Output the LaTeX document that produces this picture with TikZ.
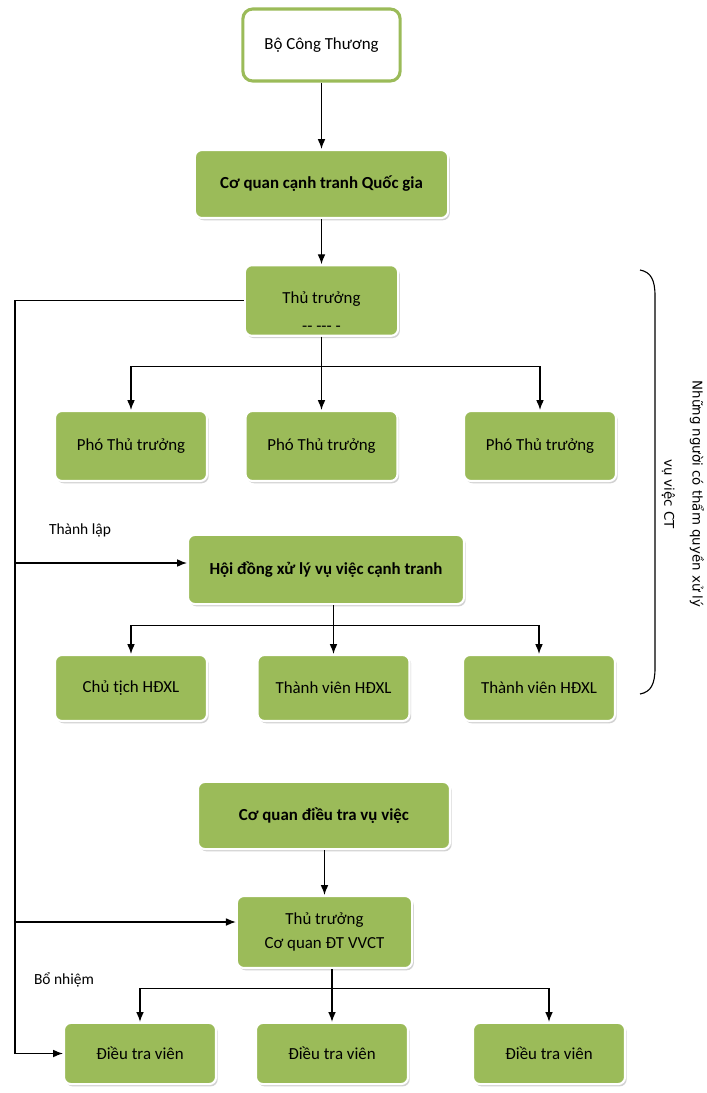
\documentclass[tikz,border=0pt]{standalone}
\usepackage{fontspec}
\setmainfont{Carlito}
\newfontfamily\notefont{DejaVu Sans}
\usetikzlibrary{arrows.meta,shadows}
\definecolor{boxgreen}{HTML}{9BBB59}

\begin{document}
\begin{tikzpicture}[x=0.025cm,y=-0.025cm,
  every node/.style={font=\fontsize{12}{14.5}\selectfont},
  gbox/.style={fill=boxgreen,draw=white,line width=1.5pt,rounded corners=5pt,
    drop shadow={shadow xshift=1.2pt,shadow yshift=-1.6pt,fill=black!35},
    minimum width=3.8cm,align=center},
  bold gbox/.style={gbox,font=\fontsize{12}{14.5}\selectfont\bfseries},
  topbox/.style={fill=white,draw=boxgreen,line width=2.2pt,rounded corners=7pt},
  arr/.style={-{Latex[length=7pt,width=5.5pt]},line width=0.8pt},
  side label/.style={inner sep=0pt,font=\fontsize{11}{13}\selectfont},
  ]
  \useasboundingbox (0,0) rectangle (707,1093);

  \node[topbox,minimum width=3.93cm,minimum height=1.8cm] (bct) at (321.5,45) {Bộ Công Thương};
  \node[bold gbox,minimum width=6.33cm,minimum height=1.7cm] (cqct) at (321.5,184) {Cơ quan cạnh tranh Quốc gia};
  \node[gbox,minimum width=3.83cm,minimum height=1.68cm] (tt) at (321.5,300.5)
    {\rule{0pt}{24pt}Thủ trưởng\\[5pt]{-}{-} {-}{-}{-} {-}};
  \foreach \i/\x in {1/131,2/321.5,3/540}{
    \node[gbox,minimum height=1.75cm] (pho\i) at (\x,446) {Phó Thủ trưởng};
  }

  \node[bold gbox,minimum width=6.9cm,minimum height=1.73cm] (hd) at (326,569.5) {Hội đồng xử lý vụ việc cạnh tranh};
  \foreach \n/\x/\t in {ct/131/Chủ tịch HĐXL,tv1/333.5/Thành viên HĐXL,tv2/539/Thành viên HĐXL}{
    \node[gbox,minimum height=1.65cm] (\n) at (\x,688) {\t};
  }

  \node[bold gbox,minimum width=6.3cm,minimum height=1.68cm] (cqdt) at (324,815.5) {Cơ quan điều tra vụ việc};
  \node[gbox,minimum width=4.38cm,minimum height=1.8cm] (ttdt) at (324.5,932) {Thủ trưởng\\[2pt]Cơ quan ĐT VVCT};
  \foreach \i/\x in {1/140,2/332,3/549}{
    \node[gbox,minimum height=1.53cm] (dtv\i) at (\x,1053.5) {Điều tra viên};
  }

  \node[side label] (thanhlap) at (80,530) {Thành lập};
  \node[side label] (bonhiem) at (64,980) {Bổ nhiệm};

  \draw[arr] (bct) -- (cqct);
  \draw[arr] (cqct) -- (tt);
  \draw[arr] (tt.south) -- ++(0,30) -| (pho1.north);
  \draw[arr] (tt.south) -- (pho2.north);
  \draw[arr] (tt.south) -- ++(0,30) -| (pho3.north);

  \draw[arr] (tv1.north |- hd.south) -- ++(0,20) -| (ct.north);
  \draw[arr] (tv1.north |- hd.south) -- (tv1.north);
  \draw[arr] (tv1.north |- hd.south) -- ++(0,20) -| (tv2.north);

  \draw[arr] (ttdt.north |- cqdt.south) -- (ttdt.north);
  \draw[arr] (dtv2.north |- ttdt.south) -- ++(0,19) -| (dtv1.north);
  \draw[arr] (dtv2.north |- ttdt.south) -- (dtv2.north);
  \draw[arr] (dtv2.north |- ttdt.south) -- ++(0,19) -| (dtv3.north);

  \coordinate (lbot) at (15,1053.5);
  \coordinate (lhd) at (15,563);
  \coordinate (ldt) at (15,922);
  \draw[arr] (tt.west) -| (lbot) -- (dtv1.west);
  \draw[arr] (lhd) -- (lhd -| hd.west);
  \draw[arr] (ldt) -- (ldt -| ttdt.west);

  \draw[line width=0.8pt] (640,270) .. controls (651,272) and (655,280) .. (655,296)
    -- (655,668) .. controls (655,684) and (651,692) .. (640,694);
  \node[rotate=-90,align=center,font=\notefont\fontsize{9.5}{11}\selectfont] (note) at (683,494)
    {Những người có thẩm quyền xử lý\\[9pt]vụ việc CT};
\end{tikzpicture}
\end{document}
